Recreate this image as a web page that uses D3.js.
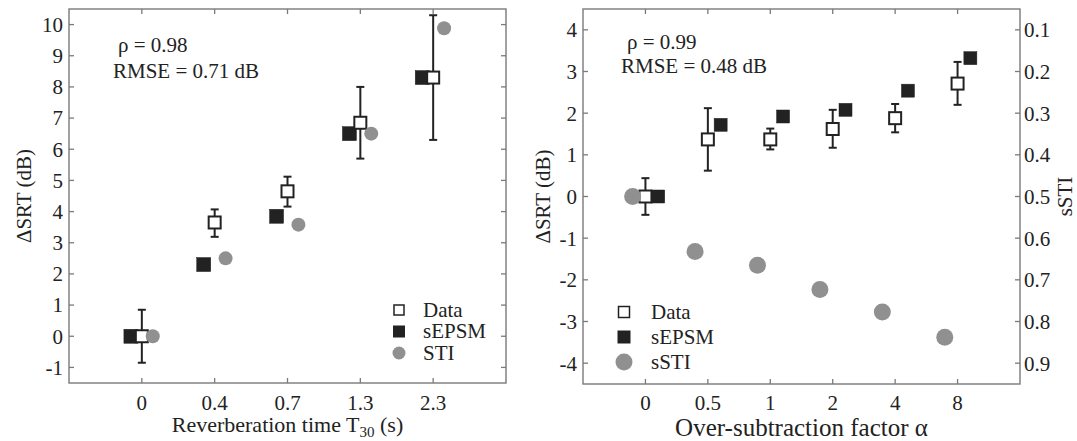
<!DOCTYPE html>
<html><head><meta charset="utf-8">
<script src="https://cdn.jsdelivr.net/npm/d3@7"></script>
<style>
html,body{margin:0;padding:0;background:#fff;}
</style></head>
<body><svg id="c" width="1077" height="441" font-family="'Liberation Serif', 'Times New Roman', Times, 'DejaVu Serif', serif"></svg>
<script>
// ---- Left panel data (reverberation) ----
const leftCats = ["0", "0.4", "0.7", "1.3", "2.3"];
const leftData = [0, 3.65, 4.65, 6.85, 8.3];
const leftDataLo = [-0.85, 3.19, 4.16, 5.7, 6.3];
const leftDataHi = [0.85, 4.07, 5.12, 8.0, 10.3];
const leftSEPSM = [0, 2.3, 3.85, 6.5, 8.3];
const leftSTI = [0, 2.5, 3.58, 6.5, 9.88];
const leftYTicks = [-1, 0, 1, 2, 3, 4, 5, 6, 7, 8, 9, 10];

// ---- Right panel data (spectral subtraction) ----
const rightCats = ["0", "0.5", "1", "2", "4", "8"];
const rightData = [0, 1.37, 1.37, 1.62, 1.88, 2.71];
const rightDataLo = [-0.44, 0.62, 1.13, 1.17, 1.54, 2.2];
const rightDataHi = [0.44, 2.12, 1.63, 2.08, 2.22, 3.23];
const rightSEPSM = [0, 1.72, 1.92, 2.08, 2.54, 3.32];
const rightSSTI = [0.5, 0.632, 0.665, 0.723, 0.777, 0.838];
const rightYTicks = [-4, -3, -2, -1, 0, 1, 2, 3, 4];
const rightSTITicks = [0.1, 0.2, 0.3, 0.4, 0.5, 0.6, 0.7, 0.8, 0.9];

const svg = d3.select("#c");
const frameColor = "#7a7a7a";
const dark = "#222";
const grey = "#909090";
const txt = "#222";

function T(g) { return g.append("text").attr("fill", txt); }

function frame(g, x0, x1, y0, y1) {
  g.append("rect").attr("x", x0).attr("y", y0).attr("width", x1 - x0).attr("height", y1 - y0)
    .attr("fill", "none").attr("stroke", frameColor).attr("stroke-width", 1.4);
}

function errorBars(g, x, y, cats, lo, hi, cap) {
  cats.forEach((c, i) => {
    const cx = x(i);
    g.append("line").attr("x1", cx).attr("x2", cx).attr("y1", y(lo[i])).attr("y2", y(hi[i]))
      .attr("stroke", dark).attr("stroke-width", 2);
    [lo[i], hi[i]].forEach(v => g.append("line").attr("x1", cx - cap).attr("x2", cx + cap)
      .attr("y1", y(v)).attr("y2", y(v)).attr("stroke", dark).attr("stroke-width", 2));
  });
}

function squares(g, xs, ys, size, fill) {
  g.selectAll(null).data(xs.map((x, i) => [x, ys[i]])).join("rect")
    .attr("x", d => d[0] - size / 2).attr("y", d => d[1] - size / 2)
    .attr("width", size).attr("height", size)
    .attr("fill", fill).attr("stroke", dark).attr("stroke-width", fill === "#fff" ? 2 : 0.5);
}
function circles(g, xs, ys, r) {
  g.selectAll(null).data(xs.map((x, i) => [x, ys[i]])).join("circle")
    .attr("cx", d => d[0]).attr("cy", d => d[1]).attr("r", r).attr("fill", grey);
}

function legend(g, x, y0, dy, labels, size, r, fs, gap) {
  const yy = i => y0 + i * dy;
  g.append("rect").attr("x", x - size / 2 + 1).attr("y", yy(0) - size / 2 + 1).attr("width", size - 2).attr("height", size - 2)
    .attr("fill", "#fff").attr("stroke", dark).attr("stroke-width", 1.5);
  g.append("rect").attr("x", x - size / 2).attr("y", yy(1) - size / 2).attr("width", size).attr("height", size)
    .attr("fill", dark);
  g.append("circle").attr("cx", x).attr("cy", yy(2)).attr("r", r).attr("fill", grey);
  labels.forEach((t, i) => T(g).attr("x", x + gap).attr("y", yy(i)).attr("dy", "0.33em")
    .attr("font-size", fs).text(t));
}

// ================= LEFT PANEL =================
{
  const X0 = 69, X1 = 506, Y0 = 9, Y1 = 383;
  const g = svg.append("g");
  const x = d3.scaleLinear().domain([-1, leftCats.length]).range([X0, X1]);
  const y = d3.scaleLinear().domain([-1.5, 10.5]).range([Y1, Y0]);
  frame(g, X0, X1, Y0, Y1);
  const tk = 5;
  leftYTicks.forEach(v => {
    g.append("line").attr("x1", X0).attr("x2", X0 + tk).attr("y1", y(v)).attr("y2", y(v)).attr("stroke", frameColor).attr("stroke-width", 1.3);
    g.append("line").attr("x1", X1).attr("x2", X1 - tk).attr("y1", y(v)).attr("y2", y(v)).attr("stroke", frameColor).attr("stroke-width", 1.3);
    T(g).attr("x", X0 - 6).attr("y", y(v)).attr("dy", "0.35em").attr("text-anchor", "end")
      .attr("font-size", 21).text(v);
  });
  leftCats.forEach((c, i) => {
    g.append("line").attr("x1", x(i)).attr("x2", x(i)).attr("y1", Y1).attr("y2", Y1 - tk).attr("stroke", frameColor).attr("stroke-width", 1.3);
    g.append("line").attr("x1", x(i)).attr("x2", x(i)).attr("y1", Y0).attr("y2", Y0 + tk).attr("stroke", frameColor).attr("stroke-width", 1.3);
    T(g).attr("x", x(i)).attr("y", 410).attr("text-anchor", "middle").attr("font-size", 21).text(c);
  });
  const xl = T(g).attr("x", x(2)).attr("y", 432).attr("text-anchor", "middle").attr("font-size", 22);
  xl.append("tspan").text("Reverberation time T");
  xl.append("tspan").attr("dy", 5).attr("font-size", 15).text("30");
  xl.append("tspan").attr("dy", -5).text(" (s)");
  T(g).attr("transform", `translate(31,${(Y0 + Y1) / 2}) rotate(-90)`).attr("text-anchor", "middle")
    .attr("font-size", 21).text("ΔSRT (dB)");
  T(g).attr("x", 118).attr("y", 52).attr("font-size", 21).text("ρ = 0.98");
  T(g).attr("x", 113).attr("y", 78).attr("font-size", 21).text("RMSE = 0.71 dB");

  const off = 0.15;
  errorBars(g, x, y, leftCats, leftDataLo, leftDataHi, 4);
  squares(g, leftCats.map((c, i) => x(i - off)), leftSEPSM.map(y), 14, dark);
  squares(g, leftCats.map((c, i) => x(i)), leftData.map(y), 12, "#fff");
  circles(g, leftCats.map((c, i) => x(i + off)), leftSTI.map(y), 7);
  legend(g, 399, 310, 21.5, ["Data", "sEPSM", "STI"], 12, 6.5, 21, 24);
}

// ================= RIGHT PANEL =================
{
  const X0 = 583, X1 = 1020, Y0 = 9, Y1 = 384;
  const g = svg.append("g");
  const x = d3.scaleLinear().domain([-1, rightCats.length]).range([X0, X1]);
  const y = d3.scaleLinear().domain([-4.5, 4.5]).range([Y1, Y0]);
  const y2 = d3.scaleLinear().domain([0.05, 0.95]).range([Y0, Y1]);
  frame(g, X0, X1, Y0, Y1);
  const tk = 5;
  rightYTicks.forEach(v => {
    g.append("line").attr("x1", X0).attr("x2", X0 + tk).attr("y1", y(v)).attr("y2", y(v)).attr("stroke", frameColor).attr("stroke-width", 1.3);
    T(g).attr("x", X0 - 6).attr("y", y(v)).attr("dy", "0.35em").attr("text-anchor", "end")
      .attr("font-size", 21).text(v);
  });
  rightSTITicks.forEach(v => {
    g.append("line").attr("x1", X1).attr("x2", X1 - tk).attr("y1", y2(v)).attr("y2", y2(v)).attr("stroke", frameColor).attr("stroke-width", 1.3);
    T(g).attr("x", X1 + 4).attr("y", y2(v)).attr("dy", "0.35em").attr("text-anchor", "start")
      .attr("font-size", 21).text(d3.format(".1f")(v));
  });
  rightCats.forEach((c, i) => {
    g.append("line").attr("x1", x(i)).attr("x2", x(i)).attr("y1", Y1).attr("y2", Y1 - tk).attr("stroke", frameColor).attr("stroke-width", 1.3);
    g.append("line").attr("x1", x(i)).attr("x2", x(i)).attr("y1", Y0).attr("y2", Y0 + tk).attr("stroke", frameColor).attr("stroke-width", 1.3);
    T(g).attr("x", x(i)).attr("y", 410).attr("text-anchor", "middle").attr("font-size", 21).text(c);
  });
  T(g).attr("x", (X0 + X1) / 2).attr("y", 436).attr("text-anchor", "middle").attr("font-size", 25)
    .text("Over-subtraction factor α");
  T(g).attr("transform", `translate(550,${(Y0 + Y1) / 2}) rotate(-90)`).attr("text-anchor", "middle")
    .attr("font-size", 21).text("ΔSRT (dB)");
  T(g).attr("transform", `translate(1072,${y(0)}) rotate(-90)`).attr("text-anchor", "middle")
    .attr("font-size", 21).text("sSTI");
  T(g).attr("x", 627).attr("y", 49).attr("font-size", 21).text("ρ = 0.99");
  T(g).attr("x", 621).attr("y", 73).attr("font-size", 21).text("RMSE = 0.48 dB");

  const off = 0.205;
  errorBars(g, x, y, rightCats, rightDataLo, rightDataHi, 4);
  squares(g, rightCats.map((c, i) => x(i)), rightData.map(y), 12, "#fff");
  squares(g, rightCats.map((c, i) => x(i + off)), rightSEPSM.map(y), 13, dark);
  circles(g, rightCats.map((c, i) => x(i - off)), rightSSTI.map(y2), 8.5);
  legend(g, 624, 312, 25, ["Data", "sEPSM", "sSTI"], 13, 8.5, 21, 27);
}
</script></body></html>
